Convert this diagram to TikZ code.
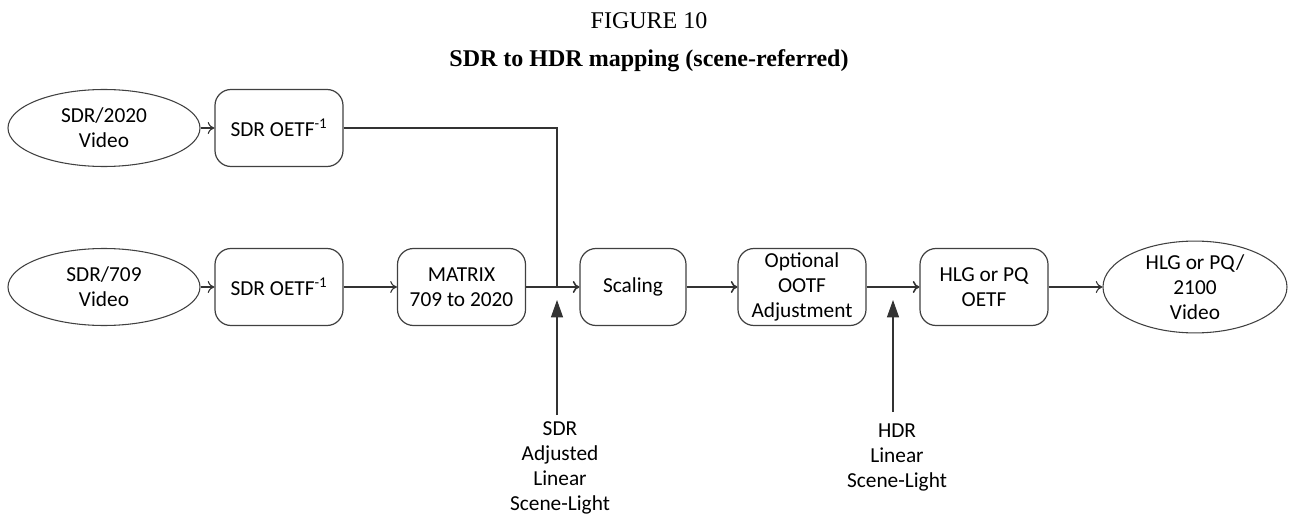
\documentclass[tikz,border=0pt]{standalone}
\usepackage{fontspec}
\setmainfont{Carlito}
\newfontfamily\titlefont{Liberation Serif}
\usetikzlibrary{shapes.geometric,arrows.meta}
\begin{document}
\begin{tikzpicture}[x=0.75pt,y=-0.75pt,
  font=\fontsize{16}{18.75}\selectfont,
  proc/.style={draw=black!75,line width=0.9pt,rounded corners=12pt,minimum width=96pt,minimum height=57.75pt,align=center,inner sep=1pt},
  term/.style={draw=black!75,line width=0.8pt,ellipse,minimum width=144pt,minimum height=57.75pt,align=center,inner sep=0pt},
  flow/.style={draw=black!80,line width=0.8pt,-{To[length=5pt,width=9pt]}},
  sig/.style={draw=black!80,line width=0.8pt,-{Triangle[length=13pt,width=9pt]}},
  lbl/.style={align=center,inner sep=0pt}]
\useasboundingbox (0,0) rectangle (1290,517);
\node[font=\titlefont\fontsize{18}{20}\selectfont] (fig) at (649,21) {FIGURE 10};
\node[font=\titlefont\bfseries\fontsize{18}{20}\selectfont] (ttl) at (649,61) {SDR to HDR mapping (scene-referred)};
\node[term] (in2020) at (104,128) {SDR/2020\\Video};
\node[proc] (oetfA) at (279,128) {SDR OETF\textsuperscript{-1}};
\node[term] (in709) at (104,287) {SDR/709\\Video};
\node[proc] (oetfB) at (279,287) {SDR OETF\textsuperscript{-1}};
\node[proc] (matrix) at (461.5,287) {MATRIX\\709 to 2020};
\node[proc,minimum width=79.5pt] (scal) at (633,287) {Scaling};
\node[proc] (ootf) at (802,287) {Optional\\OOTF\\Adjustment};
\node[proc] (hlg) at (984,287) {HLG or PQ\\OETF};
\node[term,minimum width=138pt,minimum height=60pt] (out) at (1195,287) {HLG or PQ/\\2100\\Video};
\coordinate (j1) at (557,287);
\draw[flow] (in2020) -- (oetfA);
\draw[flow] (in709) -- (oetfB);
\draw[flow] (oetfB) -- (matrix);
\draw[draw=black!80,line width=0.8pt] (oetfA.east) -| (j1);
\draw[draw=black!80,line width=0.8pt] (matrix.east) -- (j1);
\draw[flow,line width=1.2pt] (j1) -- (scal);
\draw[flow,line width=1.2pt] (scal) -- (ootf);
\draw[flow,line width=1.2pt] (ootf) -- (hlg);
\draw[flow] (hlg) -- (out);
\node[lbl] (sdrl) at (560,468) {SDR\\Adjusted\\Linear\\Scene-Light};
\node[lbl] (hdrl) at (897,457) {HDR\\Linear\\Scene-Light};
\coordinate (s1) at (557,415);
\coordinate (s2) at (893,412);
\coordinate (t1) at (557,300);
\coordinate (t2) at (893,300);
\draw[sig] (s1) -- (t1);
\draw[sig] (s2) -- (t2);
\end{tikzpicture}
\end{document}
